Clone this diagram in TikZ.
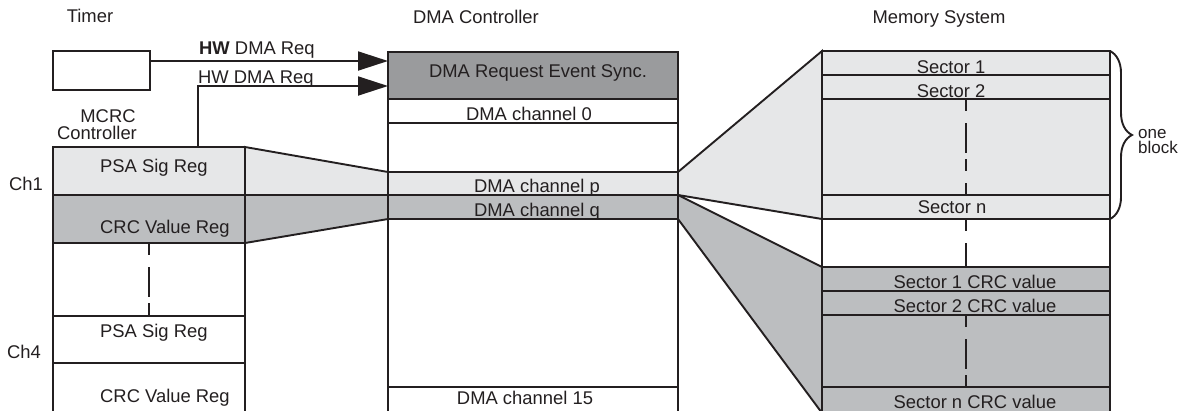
\documentclass[tikz,border=0pt]{standalone}
\usepackage{fontspec}
\setmainfont{Liberation Sans}
\usetikzlibrary{arrows.meta,decorations.pathreplacing,backgrounds}
\definecolor{lightg}{HTML}{E6E7E8}
\definecolor{midg}{HTML}{BCBEC0}
\definecolor{darkg}{HTML}{9A9B9D}
\definecolor{ink}{HTML}{231F20}
\begin{document}
\begin{tikzpicture}[x=1pt,y=-1pt,
  band/.style={draw=ink, line width=1.9pt, inner sep=0pt, outer sep=0pt, anchor=north west},
  lbl/.style={inner sep=0pt, anchor=base, text=ink, font=\fontsize{18.4}{16}\selectfont},
  lblw/.style={lbl, anchor=base west},
  small/.style={inner sep=0pt, anchor=base west, text=ink, font=\fontsize{17}{16}\selectfont},
  wedge/.style={draw=ink, line width=1.9pt, line join=miter},
  dashv/.style={draw=ink, line width=2pt, dash pattern=on 12pt off 12pt on 30pt off 6pt},
  req/.style={draw=ink, line width=1.8pt, -{Triangle[length=30pt,width=19pt]}},
]
\useasboundingbox (0,0) rectangle (1180,410);
\clip (0,0) rectangle (1180,410);

% titles
\node[lbl] (ttimer) at (90,22) {Timer};
\node[lbl] (tdma) at (476,23) {DMA Controller};
\node[lbl] (tmem) at (939,23) {Memory System};
\node[lbl] (tmcrc) at (108,122) {MCRC};
\node[lbl] (tctrl) at (97,139.5) {Controller};
\node[lbl] (tch1) at (26,190) {Ch1};
\node[lbl] (tch4) at (24,358) {Ch4};

% timer
\node[band, fill=white, minimum width=97pt, minimum height=39pt] (timer) at (53,51) {};

% MCRC column
\node[band, fill=lightg, minimum width=192pt, minimum height=48pt] (psa1) at (53,147) {};
\node[band, fill=midg,   minimum width=192pt, minimum height=48pt] (crc1) at (53,195) {};
\node[band, fill=white,  minimum width=192pt, minimum height=73pt] (mgap) at (53,243) {};
\node[band, fill=white,  minimum width=192pt, minimum height=47pt] (psa4) at (53,316) {};
\node[band, fill=white,  minimum width=192pt, minimum height=57pt] (crc4) at (53,363) {};

% DMA column
\node[band, fill=darkg, minimum width=290pt, minimum height=47pt]  (sync)  at (388,52) {};
\node[band, fill=white, minimum width=290pt, minimum height=24pt]  (ch0)   at (388,99) {};
\node[band, fill=white, minimum width=290pt, minimum height=49pt]  (dgap1) at (388,123) {};
\node[band, fill=lightg,minimum width=290pt, minimum height=23pt]  (chp)   at (388,172) {};
\node[band, fill=midg,  minimum width=290pt, minimum height=24pt]  (chq)   at (388,195) {};
\node[band, fill=white, minimum width=290pt, minimum height=168pt] (dgap2) at (388,219) {};
\node[band, fill=white, minimum width=290pt, minimum height=33pt]  (ch15)  at (388,387) {};

% Memory column
\node[band, fill=lightg, minimum width=288pt, minimum height=24pt] (sec1)  at (822,51) {};
\node[band, fill=lightg, minimum width=288pt, minimum height=24pt] (sec2)  at (822,75) {};
\node[band, fill=lightg, minimum width=288pt, minimum height=96pt] (sdots) at (822,99) {};
\node[band, fill=lightg, minimum width=288pt, minimum height=24pt] (secn)  at (822,195) {};
\node[band, fill=white,  minimum width=288pt, minimum height=48pt] (mgap2) at (822,219) {};
\node[band, fill=midg,   minimum width=288pt, minimum height=24pt] (c1)    at (822,267) {};
\node[band, fill=midg,   minimum width=288pt, minimum height=24pt] (c2)    at (822,291) {};
\node[band, fill=midg,   minimum width=288pt, minimum height=72pt] (cdots) at (822,315) {};
\node[band, fill=midg,   minimum width=288pt, minimum height=33pt] (cn)    at (822,387) {};

\coordinate (cnb) at (822,413);

% wedges (behind)
\begin{scope}[on background layer]
\filldraw[wedge, fill=lightg] (psa1.north east) -- (chp.north west) -- (chp.south west) -- (psa1.south east) -- cycle;
\filldraw[wedge, fill=midg] (crc1.north east) -- (chq.north west) -- (chq.south west) -- (crc1.south east) -- cycle;
\filldraw[wedge, fill=lightg] (chp.north east) -- (sec1.north west) -- (secn.south west) -- (chp.south east) -- cycle;
\filldraw[wedge, fill=midg] (chq.north east) -- (c1.north west) -- (cnb) -- (chq.south east) -- cycle;
\end{scope}

% dashed continuation lines
\draw[dashv] (mgap.north) -- (mgap.south);
\draw[dashv] (sdots.north) -- (sdots.south);
\draw[dashv] (mgap2.north) -- (mgap2.south);
\draw[dashv] (cdots.north) -- (cdots.south);

% band texts
\node[lblw] (lpsa1) at (100,172) {PSA Sig Reg};
\node[lblw] (lcrc1) at (100,233) {CRC Value Reg};
\node[lblw] (lpsa4) at (100,337) {PSA Sig Reg};
\node[lblw] (lcrc4) at (100,402) {CRC Value Reg};

\node[lbl] (lsync) at (538,77) {DMA Request Event Sync.};
\node[lbl] (lch0)  at (529,120) {DMA channel 0};
\node[lbl] (lchp)  at (537,192) {DMA channel p};
\node[lbl] (lchq)  at (537,216) {DMA channel q};
\node[lbl] (lch15) at (525,404) {DMA channel 15};

\node[lbl] (lsec1) at (951,73) {Sector 1};
\node[lbl] (lsec2) at (951,97) {Sector 2};
\node[lbl] (lsecn) at (952,213) {Sector n};
\node[lbl] (lc1) at (975,288) {Sector 1 CRC value};
\node[lbl] (lc2) at (975,312) {Sector 2 CRC value};
\node[lbl] (lcn) at (975,408) {Sector n CRC value};

% requests
\coordinate (t1) at ([yshift=9.5pt]timer.east);
\coordinate (r2) at (198,147);
\coordinate (s2) at ([yshift=-10.5pt]sync.west);
\draw[req] (t1) -- (t1 -| sync.west);
\draw[req] (r2) |- (s2);
\node[lblw] (lreq1) at (199,54) {\textbf{HW} DMA Req};
\node[lblw] (lreq2) at (198,83) {HW DMA Req};

% brace
\draw[draw=ink, line width=1.9pt, decorate, decoration={brace, amplitude=22pt}] (sec1.north east) -- (secn.south east);
\node[small] (lone) at (1138,138) {one};
\node[small] (lblock) at (1138,153.5) {block};
\end{tikzpicture}
\end{document}
